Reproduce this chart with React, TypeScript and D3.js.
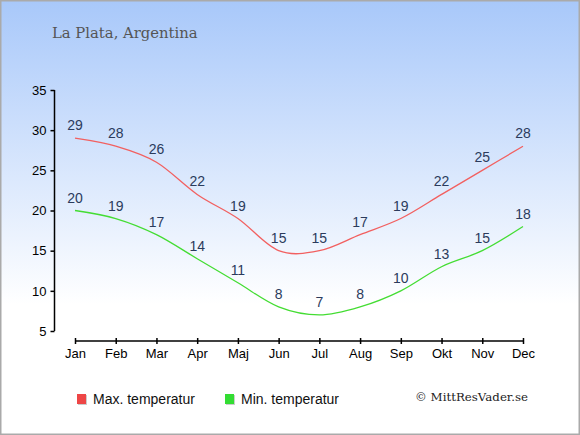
import { useEffect, useRef } from 'react'
import * as d3 from 'd3'

const months = ['Jan', 'Feb', 'Mar', 'Apr', 'Maj', 'Jun', 'Jul', 'Aug', 'Sep', 'Okt', 'Nov', 'Dec']
const maxTemp = [29, 28, 26, 22, 19, 15, 15, 17, 19, 22, 25, 28]
const minTemp = [20, 19, 17, 14, 11, 8, 7, 8, 10, 13, 15, 18]
const yTicks = [5, 10, 15, 20, 25, 30, 35]

const W = 580
const H = 435

export default function App() {
  const svgRef = useRef<SVGSVGElement>(null)

  useEffect(() => {
    if (!svgRef.current) return
    const svg = d3.select(svgRef.current)
    svg.selectAll('*').remove()

    const x = d3.scalePoint<string>().domain(months).range([75, 523])
    const y = d3.scaleLinear().domain([5, 35]).range([331, 90])

    // background
    const grad = svg.append('defs').append('linearGradient')
      .attr('id', 'bg').attr('x1', 0).attr('y1', 0).attr('x2', 0).attr('y2', 1)
    grad.append('stop').attr('offset', '0%').attr('stop-color', '#a8c8fa')
    grad.append('stop').attr('offset', '70%').attr('stop-color', '#ffffff')
    svg.append('rect').attr('width', W).attr('height', H).attr('fill', 'url(#bg)')
    svg.append('rect').attr('x', 0.75).attr('y', 0.75).attr('width', W - 1.5).attr('height', H - 1.5)
      .attr('fill', 'none').attr('stroke', '#aaaaaa').attr('stroke-width', 1.5)

    svg.append('text').attr('x', 52).attr('y', 38)
      .style('font-family', '"DejaVu Serif", serif').style('font-size', '14.8px')
      .style('fill', '#555555').text('La Plata, Argentina')

    // y axis
    const yAxis = svg.append('g').attr('transform', 'translate(54.5,0)')
      .call(d3.axisLeft(y).tickValues(yTicks).tickSize(4).tickPadding(4))
    yAxis.select('.domain').attr('stroke', '#000').attr('stroke-width', 1.5).attr('d', `M0,${y(35)}V${y(5)}`)
    yAxis.selectAll('.tick line').attr('stroke', '#000').attr('stroke-width', 1.5)
    yAxis.selectAll('.tick text').style('font-family', '"Liberation Sans", Arial, sans-serif')
      .style('font-size', '13px').style('fill', '#000')

    // x axis
    const xAxis = svg.append('g').attr('transform', 'translate(0,341)')
      .call(d3.axisBottom(x).tickSize(3).tickPadding(5))
    xAxis.select('.domain').attr('stroke', '#000').attr('stroke-width', 1.5).attr('d', `M75,0H523`)
    xAxis.selectAll('.tick line').attr('stroke', '#000').attr('stroke-width', 1.5).attr('y1', -3)
    xAxis.selectAll('.tick text').style('font-family', '"Liberation Sans", Arial, sans-serif')
      .style('font-size', '13px').style('fill', '#000')

    const series = [
      { name: 'Max. temperatur', values: maxTemp, color: '#f26060', box: '#ee4646' },
      { name: 'Min. temperatur', values: minTemp, color: '#44dd33', box: '#33dd33' }
    ]

    const line = d3.line<number>()
      .x((_, i) => x(months[i]) as number)
      .y(d => y(d))
      .curve(d3.curveCardinal)

    series.forEach(s => {
      svg.append('path').datum(s.values).attr('d', line)
        .attr('fill', 'none').attr('stroke', s.color).attr('stroke-width', 1.3)
      svg.append('g').selectAll('text').data(s.values).enter().append('text')
        .attr('x', (_, i) => x(months[i]) as number)
        .attr('y', d => y(d) - 8)
        .attr('text-anchor', 'middle')
        .style('font-family', '"Liberation Sans", Arial, sans-serif')
        .style('font-size', '14px').style('fill', '#2b3b5c')
        .text(d => d)
    })

    // legend
    const legendX = [77, 225]
    series.forEach((s, i) => {
      const g = svg.append('g').attr('transform', `translate(${legendX[i]},394)`)
      g.append('rect').attr('x', 1).attr('y', 1).attr('width', 9).attr('height', 10).attr('fill', '#cccccc')
      g.append('rect').attr('width', 9).attr('height', 10).attr('fill', s.box)
      g.append('text').attr('x', 16).attr('y', 10)
        .style('font-family', '"Liberation Sans", Arial, sans-serif')
        .style('font-size', '14px').style('fill', '#111').text(s.name)
    })

    svg.append('text').attr('x', 528).attr('y', 401).attr('text-anchor', 'end')
      .style('font-family', '"DejaVu Serif", serif').style('font-size', '11.8px')
      .style('fill', '#222').text('© MittResVader.se')
  }, [])

  return <svg ref={svgRef} width={W} height={H} style={{ position: 'absolute', left: 0, top: 0 }} />
}
